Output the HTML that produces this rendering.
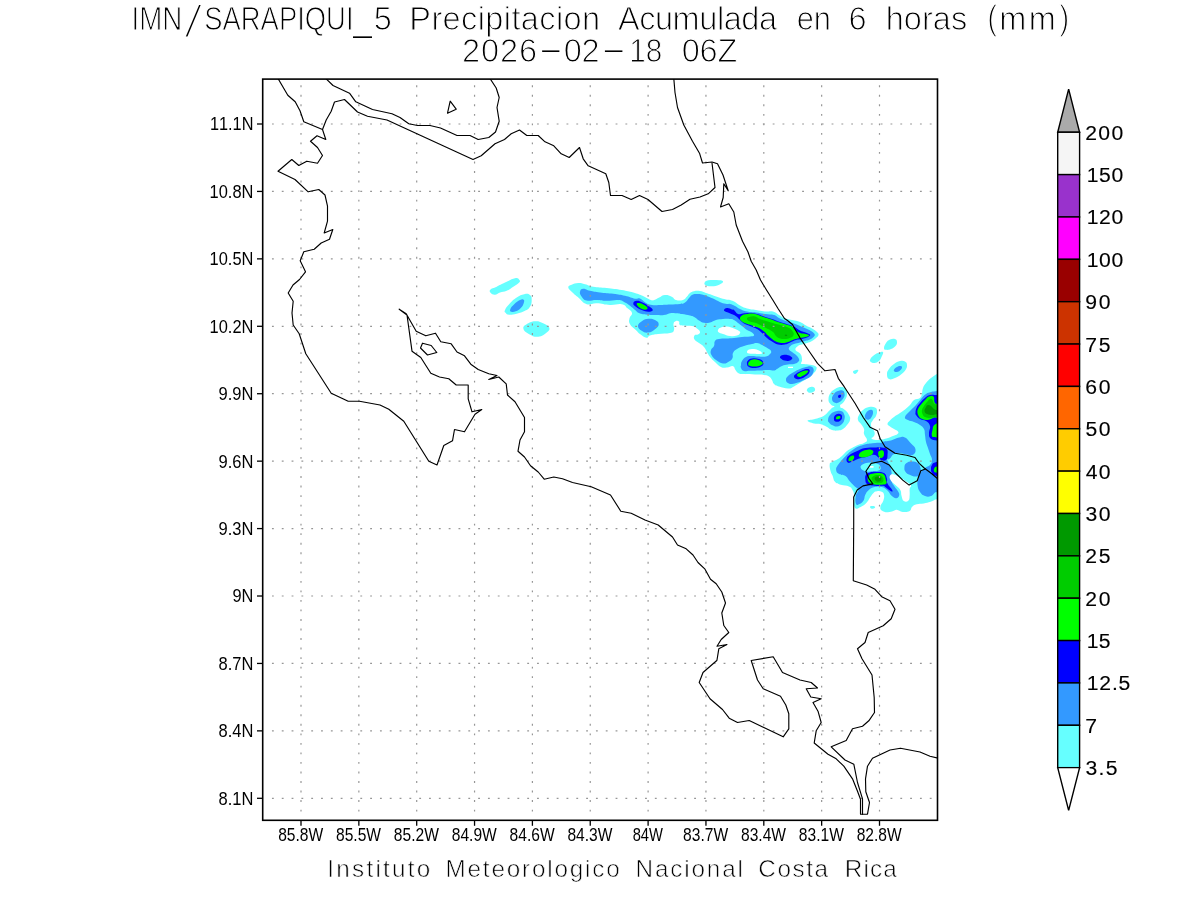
<!DOCTYPE html>
<html lang="es"><head><meta charset="utf-8"><title>IMN/SARAPIQUI_5 Precipitacion Acumulada en 6 horas (mm)</title>
<style>
html,body{margin:0;padding:0;background:#fff;}
body{width:1200px;height:900px;overflow:hidden;}
svg{display:block;}
text{font-family:"Liberation Sans",sans-serif;fill:#000;}
.ttl{stroke:#fff;stroke-width:1.05px;}
.ftr{stroke:#fff;stroke-width:0.65px;}
.ax{stroke:none;}
.cb{stroke:#000;stroke-width:0.12px;}
.coast{fill:none;stroke:#000;stroke-width:1.15;stroke-linejoin:round;stroke-linecap:round;}
.grid{fill:none;stroke:#969696;stroke-width:1.2;}
.tick{stroke:#000;stroke-width:1.3;}
</style></head><body>
<svg width="1200" height="900" viewBox="0 0 1200 900">
<rect x="0" y="0" width="1200" height="900" fill="#fff"/>
<clipPath id="mapclip"><rect x="262.7" y="79.1" width="674.8" height="741.2"/></clipPath>
<g id="precip" clip-path="url(#mapclip)">
<path fill="#66ffff" d="M490.3,289.7 C491.7,288.2 493.2,288.3 496.7,286.7 C500.1,285.0 500.7,284.4 505.0,282.5 C509.3,280.6 511.7,279.0 515.0,278.3 C518.3,277.7 518.2,278.7 519.2,279.7 C520.1,280.6 520.5,280.9 519.2,282.5 C517.8,284.1 516.2,284.7 513.3,286.7 C510.4,288.6 509.8,289.5 506.7,290.8 C503.6,292.2 502.7,291.6 500.0,292.5 C497.3,293.4 497.1,294.6 495.0,294.7 C492.9,294.8 491.9,294.2 490.8,293.0 C489.7,291.8 489.0,291.1 490.3,289.7Z"/>
<path fill="#66ffff" d="M505.0,310.0 C506.0,307.7 507.3,306.2 510.0,303.3 C512.7,300.4 513.4,299.6 516.7,297.5 C520.0,295.4 521.1,294.8 524.2,294.2 C527.3,293.6 528.2,293.6 530.0,295.0 C531.8,296.4 531.7,297.3 531.7,300.0 C531.7,302.7 531.6,304.1 530.0,306.7 C528.4,309.2 528.1,309.2 525.0,310.8 C521.9,312.5 520.4,312.8 516.7,313.7 C513.0,314.6 511.7,314.8 509.2,314.7 C506.6,314.5 506.8,314.1 505.8,313.0 C504.9,311.9 504.0,312.3 505.0,310.0Z"/>
<path fill="#66ffff" d="M523.3,328.3 C523.1,325.8 525.4,325.0 528.3,323.3 C531.2,321.7 532.5,321.2 535.8,321.2 C539.1,321.1 539.4,321.5 542.5,323.0 C545.6,324.5 548.2,325.3 549.2,327.5 C550.1,329.7 549.2,330.4 546.7,332.5 C544.1,334.6 542.4,336.3 538.3,336.7 C534.2,337.1 532.7,336.1 529.2,334.2 C525.7,332.2 523.5,330.9 523.3,328.3Z"/>
<path fill="#66ffff" d="M704.7,282.5 C705.2,281.3 705.5,280.9 708.3,280.3 C711.1,279.8 713.2,279.8 716.7,280.0 C720.1,280.2 722.4,280.2 723.0,281.3 C723.6,282.4 721.8,283.5 719.2,284.7 C716.5,285.8 714.8,286.2 711.7,286.3 C708.6,286.5 707.5,286.2 705.8,285.3 C704.2,284.4 704.1,283.7 704.7,282.5Z"/>
<path fill="#66ffff" d="M568.3,287.5 C568.1,285.7 569.3,285.7 571.7,284.7 C574.0,283.6 575.2,283.1 578.3,283.0 C581.4,282.9 581.5,283.3 585.0,284.2 C588.5,285.0 588.3,285.8 593.3,286.7 C598.4,287.6 600.1,287.2 606.7,288.0 C613.3,288.8 615.4,288.9 621.7,290.0 C627.9,291.1 628.5,291.1 633.3,292.5 C638.2,293.9 638.6,294.2 642.5,295.8 C646.4,297.5 647.3,298.7 650.0,299.7 C652.7,300.6 652.0,300.5 654.2,300.0 C656.3,299.5 656.6,298.7 659.2,297.5 C661.7,296.3 662.1,295.2 665.0,295.0 C667.9,294.8 669.1,295.5 671.7,296.7 C674.2,297.8 673.4,299.2 676.0,300.0 C678.6,300.8 680.4,300.8 683.0,300.0 C685.6,299.2 685.4,298.1 687.0,296.5 C688.6,294.9 688.4,294.2 690.0,293.0 C691.6,291.8 691.7,291.7 694.0,291.2 C696.3,290.7 697.2,290.6 700.0,291.0 C702.8,291.4 703.2,292.1 706.0,293.0 C708.8,293.9 709.0,293.9 712.0,295.0 C715.0,296.1 715.7,296.4 719.0,297.5 C722.3,298.6 723.4,298.9 726.0,299.5 C728.6,300.1 727.9,299.4 730.0,300.0 C732.1,300.6 732.7,300.7 735.0,302.0 C737.3,303.3 737.2,304.0 740.0,305.5 C742.8,307.0 743.3,307.4 747.0,308.5 C750.7,309.6 751.8,309.3 756.0,310.0 C760.2,310.7 761.0,311.1 765.0,311.5 C769.0,311.9 769.7,310.7 773.0,311.5 C776.3,312.3 776.4,313.5 779.0,315.0 C781.6,316.5 781.0,316.8 784.0,318.0 C787.0,319.2 788.3,319.1 792.0,320.0 C795.7,320.9 796.7,320.7 800.0,322.0 C803.3,323.3 803.2,324.0 806.0,325.5 C808.8,327.0 809.4,327.0 812.0,328.5 C814.6,330.0 815.5,330.5 817.0,332.0 C818.5,333.5 818.7,333.6 818.5,335.0 C818.3,336.4 817.5,336.6 816.0,338.0 C814.5,339.4 814.1,339.8 812.0,341.0 C809.9,342.2 809.3,342.2 807.0,343.0 C804.7,343.8 804.1,343.8 802.0,344.5 C799.9,345.2 799.5,344.7 798.0,346.0 C796.5,347.3 794.9,348.1 795.5,350.0 C796.1,351.9 799.0,351.7 800.5,354.0 C802.0,356.3 801.9,357.8 802.0,360.0 C802.1,362.2 800.5,362.6 801.0,363.5 C801.5,364.4 801.9,363.7 804.0,364.0 C806.1,364.3 807.4,364.3 810.0,364.8 C812.6,365.3 813.5,365.0 815.0,366.0 C816.5,367.0 817.0,367.1 816.5,369.0 C816.0,370.9 815.0,371.9 813.0,374.0 C811.0,376.1 810.3,376.4 808.0,378.0 C805.7,379.6 805.3,379.6 803.0,381.0 C800.7,382.4 800.3,382.6 798.0,384.0 C795.7,385.4 795.3,385.9 793.0,387.0 C790.7,388.1 791.3,388.6 788.0,388.5 C784.7,388.4 782.3,387.6 779.0,386.5 C775.7,385.4 775.6,385.5 774.0,384.0 C772.4,382.5 773.2,381.8 772.0,380.0 C770.8,378.2 770.9,377.7 769.0,376.5 C767.1,375.3 767.3,375.5 764.0,375.0 C760.7,374.5 759.4,374.7 755.0,374.5 C750.6,374.3 748.7,374.2 745.0,374.0 C741.3,373.8 741.2,374.4 739.0,373.5 C736.8,372.6 736.9,371.7 735.5,370.0 C734.1,368.3 735.0,366.8 733.0,366.2 C731.0,365.6 729.8,367.3 727.0,367.5 C724.2,367.7 723.8,368.3 721.0,367.0 C718.2,365.7 717.3,364.1 715.0,362.0 C712.7,359.9 712.6,359.9 711.0,358.0 C709.4,356.1 709.6,356.6 708.0,354.0 C706.4,351.4 706.1,349.6 704.0,347.0 C701.9,344.4 701.2,344.8 699.0,343.0 C696.8,341.2 695.5,341.2 694.5,339.5 C693.5,337.8 693.7,336.7 694.5,335.5 C695.3,334.3 696.7,335.3 698.0,334.5 C699.3,333.7 700.2,333.4 700.0,332.0 C699.8,330.6 698.9,329.9 697.0,328.5 C695.1,327.1 695.3,326.7 692.0,326.0 C688.7,325.3 685.9,325.9 683.0,325.5 C680.1,325.1 680.4,325.4 679.5,324.5 C678.6,323.6 679.9,322.3 679.0,321.5 C678.1,320.7 676.8,320.6 675.5,321.2 C674.2,321.8 673.9,321.9 673.5,324.0 C673.1,326.1 674.8,327.9 674.0,330.0 C673.2,332.1 673.7,332.1 670.0,333.0 C666.3,333.9 662.7,333.4 658.0,334.0 C653.3,334.6 652.7,334.6 650.0,335.5 C647.3,336.4 648.8,338.2 646.5,337.8 C644.2,337.4 642.5,335.8 640.0,334.0 C637.5,332.2 638.2,332.3 635.8,330.0 C633.5,327.7 631.5,326.9 630.0,324.2 C628.5,321.4 629.0,320.9 629.5,318.3 C630.0,315.7 632.5,315.3 632.0,313.0 C631.5,310.7 629.9,310.4 627.5,308.3 C625.1,306.3 625.8,304.9 621.7,304.2 C617.6,303.4 615.8,305.2 610.0,305.0 C604.2,304.8 602.1,303.5 596.7,303.3 C591.2,303.1 590.9,305.5 586.7,304.2 C582.4,302.8 581.6,300.2 578.3,297.5 C575.0,294.8 574.8,294.8 572.5,292.5 C570.2,290.2 568.5,289.3 568.3,287.5Z"/>
<path fill="#66ffff" d="M807.0,389.5 C807.4,388.6 807.6,388.1 809.0,387.5 C810.4,386.9 811.6,386.6 813.0,387.0 C814.4,387.4 814.8,387.9 815.0,389.0 C815.2,390.1 815.2,390.6 814.0,391.5 C812.8,392.4 811.5,392.8 810.0,392.8 C808.5,392.8 808.2,392.3 807.5,391.5 C806.8,390.7 806.6,390.4 807.0,389.5Z"/>
<path fill="#66ffff" d="M884.0,348.0 C884.0,346.4 884.6,345.0 886.0,343.0 C887.4,341.0 887.9,340.4 890.0,339.5 C892.1,338.6 893.4,338.4 895.0,339.0 C896.6,339.6 896.9,340.4 897.0,342.0 C897.1,343.6 896.9,344.4 895.5,346.0 C894.1,347.6 893.2,348.1 891.0,349.0 C888.8,349.9 887.6,350.0 886.0,349.8 C884.4,349.6 884.0,349.6 884.0,348.0Z"/>
<path fill="#66ffff" d="M870.0,360.0 C870.5,358.6 871.1,357.6 873.0,356.0 C874.9,354.4 875.7,353.9 878.0,353.0 C880.3,352.1 882.2,351.1 883.0,352.0 C883.8,352.9 882.4,354.9 881.5,357.0 C880.6,359.1 880.6,359.6 879.0,361.0 C877.4,362.4 876.4,362.8 874.5,363.0 C872.6,363.2 872.0,362.7 871.0,362.0 C870.0,361.3 869.5,361.4 870.0,360.0Z"/>
<path fill="#66ffff" d="M853.0,372.0 C852.9,371.2 853.3,371.0 854.5,370.5 C855.7,370.0 857.3,369.6 858.0,370.0 C858.7,370.4 858.2,371.1 857.5,372.0 C856.8,372.9 856.0,374.0 855.0,374.0 C854.0,374.0 853.1,372.8 853.0,372.0Z"/>
<path fill="#66ffff" d="M887.0,374.0 C887.0,371.7 887.4,371.3 889.0,369.0 C890.6,366.7 891.4,365.9 894.0,364.0 C896.6,362.1 897.4,361.6 900.0,361.0 C902.6,360.4 903.4,360.6 905.0,361.5 C906.6,362.4 906.9,363.0 907.0,365.0 C907.1,367.0 906.9,367.8 905.5,370.0 C904.1,372.2 903.5,372.6 901.0,374.5 C898.5,376.4 897.8,376.9 895.0,378.0 C892.2,379.1 890.9,379.9 889.0,379.0 C887.1,378.1 887.0,376.3 887.0,374.0Z"/>
<path fill="#66ffff" d="M828.5,399.0 C828.6,396.6 829.0,395.3 830.5,393.0 C832.0,390.7 832.5,390.4 835.0,389.0 C837.5,387.6 838.5,387.0 841.0,387.0 C843.5,387.0 844.1,387.4 845.5,389.0 C846.9,390.6 847.1,391.4 847.0,394.0 C846.9,396.6 846.6,397.4 845.0,400.0 C843.4,402.6 842.6,403.6 840.0,405.0 C837.4,406.4 836.3,406.4 834.0,406.0 C831.7,405.6 831.3,405.1 830.0,403.5 C828.7,401.9 828.4,401.4 828.5,399.0Z"/>
<path fill="#66ffff" d="M834.0,404.5 L840.0,404.5 L840.5,409.5 L835.0,410.5Z"/>
<path fill="#66ffff" d="M807.5,420.8 C807.5,419.8 811.1,420.0 814.0,419.2 C816.9,418.4 817.4,418.5 820.0,417.5 C822.6,416.5 822.7,416.8 825.0,415.0 C827.3,413.2 827.9,411.9 830.0,410.0 C832.1,408.1 831.7,407.6 834.0,407.0 C836.3,406.4 837.4,406.8 840.0,407.5 C842.6,408.2 842.9,408.2 845.0,410.0 C847.1,411.8 847.8,412.7 849.0,415.0 C850.2,417.3 850.5,417.7 850.0,420.0 C849.5,422.3 848.6,422.9 847.0,425.0 C845.4,427.1 845.1,427.7 843.0,429.0 C840.9,430.3 840.6,430.3 838.0,430.5 C835.4,430.7 834.6,430.8 832.0,430.0 C829.4,429.2 829.1,428.2 827.0,427.0 C824.9,425.8 824.6,425.7 823.0,425.0 C821.4,424.3 822.1,424.4 820.0,424.0 C817.9,423.6 816.9,424.2 814.0,423.5 C811.1,422.8 807.5,421.8 807.5,420.8Z"/>
<path fill="#66ffff" d="M940.0,373.0 C938.6,373.2 939.1,372.8 937.0,374.0 C934.9,375.2 933.6,375.9 931.0,378.0 C928.4,380.1 927.9,380.7 926.0,383.0 C924.1,385.3 923.9,385.7 923.0,388.0 C922.1,390.3 922.7,390.7 922.0,393.0 C921.3,395.3 921.9,396.4 920.0,398.0 C918.1,399.6 916.3,398.4 914.0,400.0 C911.7,401.6 912.1,402.8 910.0,405.0 C907.9,407.2 907.3,407.6 905.0,409.5 C902.7,411.4 902.6,411.2 900.0,413.0 C897.4,414.8 896.3,415.2 894.0,417.0 C891.7,418.8 891.5,418.9 890.0,420.5 C888.5,422.1 887.5,422.6 887.5,424.0 C887.5,425.4 888.5,425.3 890.0,426.5 C891.5,427.7 892.1,427.8 894.0,429.0 C895.9,430.2 897.2,430.3 898.0,431.5 C898.8,432.7 898.7,432.9 897.5,434.0 C896.3,435.1 895.2,435.1 893.0,436.0 C890.8,436.9 890.6,437.2 888.0,438.0 C885.4,438.8 884.8,439.0 882.0,439.5 C879.2,440.0 878.5,440.2 876.0,440.0 C873.5,439.8 872.0,439.4 871.5,438.5 C871.0,437.6 873.3,437.5 874.0,436.0 C874.7,434.5 875.0,433.9 874.5,432.0 C874.0,430.1 872.8,429.9 872.0,428.0 C871.2,426.1 870.8,425.9 871.0,424.0 C871.2,422.1 871.8,421.9 873.0,420.0 C874.2,418.1 875.1,418.1 876.0,416.0 C876.9,413.9 877.2,413.0 877.0,411.0 C876.8,409.0 876.9,408.4 875.0,407.5 C873.1,406.6 871.8,406.4 869.0,407.0 C866.2,407.6 865.3,408.1 863.0,410.0 C860.7,411.9 860.2,412.7 859.0,415.0 C857.8,417.3 857.5,417.9 858.0,420.0 C858.5,422.1 859.6,421.9 861.0,424.0 C862.4,426.1 863.3,426.7 864.0,429.0 C864.7,431.3 863.3,431.4 864.0,434.0 C864.7,436.6 867.0,437.9 867.0,440.0 C867.0,442.1 866.1,441.8 864.0,443.0 C861.9,444.2 860.8,443.8 858.0,445.0 C855.2,446.2 854.6,446.6 852.0,448.0 C849.4,449.4 849.1,449.4 847.0,451.0 C844.9,452.6 845.1,453.1 843.0,455.0 C840.9,456.9 840.6,457.4 838.0,459.0 C835.4,460.6 833.9,460.7 832.0,462.0 C830.1,463.3 830.0,462.3 829.7,464.5 C829.4,466.7 829.9,468.6 830.6,471.3 C831.3,474.0 831.6,473.6 832.7,476.0 C833.7,478.4 833.1,479.8 835.0,481.8 C836.9,483.9 837.6,483.7 840.8,484.8 C844.1,485.8 846.3,485.3 849.0,486.5 C851.7,487.7 851.3,487.8 852.5,490.0 C853.7,492.2 853.7,491.8 854.2,495.8 C854.8,499.9 853.3,504.9 854.8,507.5 C856.3,510.1 857.9,508.0 860.7,506.9 C863.4,505.8 864.3,505.0 866.5,502.8 C868.7,500.7 868.4,499.9 870.0,497.6 C871.6,495.3 871.9,494.4 873.5,492.9 C875.1,491.4 875.1,491.4 877.0,491.2 C878.9,490.9 880.0,490.9 881.7,491.8 C883.3,492.6 883.6,492.6 884.0,494.7 C884.4,496.7 884.2,497.8 883.4,500.5 C882.6,503.2 880.9,504.0 880.5,506.3 C880.1,508.6 880.0,509.1 881.7,510.4 C883.3,511.8 884.8,512.0 887.5,512.2 C890.2,512.3 891.2,511.5 893.3,511.0 C895.5,510.5 894.7,509.6 896.8,509.8 C899.0,510.1 899.7,511.7 902.7,511.9 C905.7,512.2 907.5,512.2 909.7,511.0 C911.8,509.8 910.4,508.5 912.0,506.9 C913.6,505.3 913.9,505.1 916.7,504.2 C919.4,503.4 920.4,504.0 923.7,503.4 C926.9,502.8 927.7,502.6 930.7,501.7 C933.7,500.7 933.5,500.1 936.5,499.3 C939.5,498.5 942.0,527.6 943.5,498.2 C945.0,468.7 943.8,402.2 943.0,373.0 C942.2,343.8 941.4,372.8 940.0,373.0Z"/>
<path fill="#66ffff" d="M870.0,506.9 C870.0,506.3 870.7,506.2 871.8,506.1 C872.8,506.0 874.0,506.1 874.7,506.6 C875.3,507.0 875.3,507.6 874.7,508.1 C874.0,508.6 872.8,508.9 871.8,508.7 C870.7,508.4 870.0,507.5 870.0,506.9Z"/>
<path fill="#3399ff" d="M510.3,309.2 C511.0,307.4 511.9,306.3 514.2,304.2 C516.4,302.0 517.8,301.1 520.0,300.0 C522.2,298.9 522.8,298.9 523.7,299.7 C524.5,300.4 524.3,301.4 523.7,303.3 C523.0,305.3 522.7,306.1 520.8,308.0 C519.0,309.9 518.1,310.5 515.8,311.3 C513.6,312.2 512.6,312.2 511.3,311.7 C510.0,311.2 509.7,310.9 510.3,309.2Z"/>
<path fill="#3399ff" d="M638.0,325.8 C638.2,323.5 640.1,322.5 642.5,320.8 C644.9,319.2 645.4,318.9 648.3,318.7 C651.2,318.5 652.6,318.7 655.0,320.0 C657.4,321.3 658.7,322.0 658.7,324.2 C658.7,326.3 657.4,327.2 655.0,329.2 C652.6,331.1 651.4,332.1 648.3,332.5 C645.2,332.9 644.1,332.4 641.7,330.8 C639.3,329.3 637.8,328.2 638.0,325.8Z"/>
<path fill="#3399ff" d="M580.0,291.7 C580.4,289.8 581.0,289.0 583.3,288.8 C585.7,288.6 586.1,290.0 590.0,290.8 C593.9,291.7 594.6,291.8 600.0,292.5 C605.4,293.2 607.5,293.1 613.3,293.8 C619.2,294.6 619.9,294.7 625.0,295.8 C630.1,297.0 631.5,298.0 635.0,298.7 C638.5,299.3 637.4,297.5 640.0,298.5 C642.6,299.5 643.2,301.5 646.0,303.0 C648.8,304.5 648.7,304.5 652.0,305.0 C655.3,305.5 655.8,305.1 660.0,305.0 C664.2,304.9 665.3,304.7 670.0,304.5 C674.7,304.3 676.5,304.5 680.0,304.0 C683.5,303.5 682.9,303.9 685.0,302.5 C687.1,301.1 687.4,299.8 689.0,298.0 C690.6,296.2 690.4,295.9 692.0,295.0 C693.6,294.1 693.7,294.1 696.0,294.0 C698.3,293.9 699.2,293.9 702.0,294.5 C704.8,295.1 705.0,295.3 708.0,296.5 C711.0,297.7 712.0,298.1 715.0,299.5 C718.0,300.9 718.2,301.4 721.0,302.5 C723.8,303.6 724.9,303.6 727.0,304.0 C729.1,304.4 728.1,303.5 730.0,304.0 C731.9,304.5 732.7,304.8 735.0,306.0 C737.3,307.2 737.2,307.7 740.0,309.0 C742.8,310.3 743.3,310.7 747.0,311.5 C750.7,312.3 751.8,311.9 756.0,312.5 C760.2,313.1 760.8,313.4 765.0,314.0 C769.2,314.6 770.7,314.1 774.0,315.0 C777.3,315.9 776.2,316.6 779.0,318.0 C781.8,319.4 782.5,319.7 786.0,321.0 C789.5,322.3 790.7,322.3 794.0,323.5 C797.3,324.7 797.2,324.8 800.0,326.0 C802.8,327.2 803.4,327.3 806.0,328.5 C808.6,329.7 809.0,329.7 811.0,331.0 C813.0,332.3 813.8,332.7 814.5,334.0 C815.2,335.3 815.0,335.2 814.0,336.5 C813.0,337.8 812.1,338.4 810.0,339.5 C807.9,340.6 807.3,340.3 805.0,341.0 C802.7,341.7 802.6,341.8 800.0,342.5 C797.4,343.2 796.3,343.1 794.0,344.0 C791.7,344.9 791.2,345.2 790.0,346.5 C788.8,347.8 788.5,348.2 789.0,349.5 C789.5,350.8 790.4,350.7 792.0,352.0 C793.6,353.3 794.4,353.4 796.0,355.0 C797.6,356.6 798.5,357.4 799.0,359.0 C799.5,360.6 799.2,360.8 798.0,362.0 C796.8,363.2 796.3,363.4 794.0,364.0 C791.7,364.6 790.8,364.0 788.0,364.5 C785.2,365.0 784.6,364.9 782.0,366.0 C779.4,367.1 778.9,367.9 777.0,369.0 C775.1,370.1 776.1,370.3 774.0,370.5 C771.9,370.7 771.3,370.0 768.0,370.0 C764.7,370.0 764.2,370.3 760.0,370.5 C755.8,370.7 753.7,370.7 750.0,370.8 C746.3,370.9 746.1,371.7 744.0,371.0 C741.9,370.3 741.7,369.4 741.0,368.0 C740.3,366.6 740.8,366.6 741.0,365.0 C741.2,363.4 740.8,362.9 742.0,361.0 C743.2,359.1 743.7,358.2 746.0,357.0 C748.3,355.8 749.2,356.1 752.0,356.0 C754.8,355.9 754.7,356.4 758.0,356.5 C761.3,356.6 763.2,357.1 766.0,356.5 C768.8,355.9 768.8,355.3 770.0,354.0 C771.2,352.7 771.5,352.3 771.0,351.0 C770.5,349.7 770.1,349.9 768.0,348.5 C765.9,347.1 764.6,346.3 762.0,345.0 C759.4,343.7 759.3,343.2 757.0,343.0 C754.7,342.8 755.0,343.3 752.0,344.0 C749.0,344.7 747.5,344.8 744.0,346.0 C740.5,347.2 739.6,347.4 737.0,349.0 C734.4,350.6 734.0,350.9 733.0,353.0 C732.0,355.1 733.4,356.0 732.5,358.0 C731.6,360.0 731.2,360.2 729.0,361.5 C726.8,362.8 726.0,363.9 723.0,363.5 C720.0,363.1 718.7,362.0 716.0,360.0 C713.3,358.0 712.7,357.3 711.5,355.0 C710.3,352.7 710.4,352.1 711.0,350.0 C711.6,347.9 713.1,348.1 714.0,346.0 C714.9,343.9 713.8,342.6 715.0,341.0 C716.2,339.4 716.4,339.6 719.0,339.0 C721.6,338.4 722.5,338.7 726.0,338.5 C729.5,338.3 730.3,338.4 734.0,338.0 C737.7,337.6 738.3,337.4 742.0,337.0 C745.7,336.6 747.2,336.9 750.0,336.5 C752.8,336.1 753.5,336.4 754.0,335.5 C754.5,334.6 753.6,333.8 752.0,332.5 C750.4,331.2 749.3,331.5 747.0,330.0 C744.7,328.5 744.1,327.6 742.0,326.0 C739.9,324.4 739.9,324.4 738.0,323.0 C736.1,321.6 735.9,320.9 734.0,320.0 C732.1,319.1 732.6,319.2 730.0,319.0 C727.4,318.8 726.3,318.8 723.0,319.0 C719.7,319.2 719.0,319.2 716.0,320.0 C713.0,320.8 712.8,321.8 710.0,322.5 C707.2,323.2 706.6,323.3 704.0,322.8 C701.4,322.3 701.1,321.7 699.0,320.5 C696.9,319.3 697.1,318.7 695.0,317.5 C692.9,316.3 693.0,316.3 690.0,315.5 C687.0,314.7 685.3,314.5 682.0,314.0 C678.7,313.5 678.8,313.4 676.0,313.2 C673.2,313.0 672.8,312.8 670.0,313.2 C667.2,313.6 667.3,314.6 664.0,315.0 C660.7,315.4 659.7,315.0 656.0,315.0 C652.3,315.0 651.7,315.2 648.0,314.8 C644.3,314.4 643.0,314.6 640.0,313.5 C637.0,312.4 637.3,311.8 635.0,310.0 C632.7,308.2 632.3,307.6 630.0,305.8 C627.7,304.1 627.7,303.9 625.0,302.5 C622.3,301.1 622.6,300.4 618.3,300.0 C614.1,299.6 611.7,300.8 606.7,300.8 C601.6,300.8 601.3,300.1 596.7,300.0 C592.0,299.9 590.2,301.3 586.7,300.5 C583.2,299.7 583.2,298.7 581.7,296.7 C580.1,294.6 579.6,293.5 580.0,291.7Z"/>
<path fill="#3399ff" d="M786.0,380.0 C786.0,378.4 786.1,377.9 788.0,376.0 C789.9,374.1 791.2,373.6 794.0,372.0 C796.8,370.4 797.2,370.2 800.0,369.0 C802.8,367.8 803.4,367.6 806.0,367.0 C808.6,366.4 809.2,366.0 811.0,366.5 C812.8,367.0 813.0,367.5 813.5,369.0 C814.0,370.5 813.8,371.1 813.0,373.0 C812.2,374.9 812.1,375.4 810.0,377.0 C807.9,378.6 806.8,378.7 804.0,380.0 C801.2,381.3 800.8,381.6 798.0,382.5 C795.2,383.4 794.3,383.9 792.0,384.0 C789.7,384.1 789.4,383.9 788.0,383.0 C786.6,382.1 786.0,381.6 786.0,380.0Z"/>
<path fill="#3399ff" d="M894.0,370.0 C894.4,369.1 894.6,368.4 896.0,367.5 C897.4,366.6 898.6,366.0 900.0,366.0 C901.4,366.0 902.0,366.4 902.0,367.5 C902.0,368.6 901.2,369.4 900.0,370.5 C898.8,371.6 898.3,371.8 897.0,372.0 C895.7,372.2 895.2,372.0 894.5,371.5 C893.8,371.0 893.6,370.9 894.0,370.0Z"/>
<path fill="#3399ff" d="M832.0,399.0 C831.8,396.9 832.6,395.9 834.0,394.0 C835.4,392.1 836.0,391.8 838.0,391.0 C840.0,390.2 841.0,389.9 842.5,390.5 C844.0,391.1 844.3,391.8 844.5,393.5 C844.7,395.2 844.7,396.0 843.5,398.0 C842.3,400.0 841.5,400.9 839.5,402.0 C837.5,403.1 836.8,403.5 835.0,402.8 C833.2,402.1 832.2,401.1 832.0,399.0Z"/>
<path fill="#3399ff" d="M828.0,420.0 C828.2,418.2 828.4,417.0 830.0,415.0 C831.6,413.0 832.4,412.4 835.0,411.5 C837.6,410.6 838.9,410.4 841.0,411.0 C843.1,411.6 843.2,412.1 844.0,414.0 C844.8,415.9 845.0,416.7 844.5,419.0 C844.0,421.3 843.8,422.2 842.0,424.0 C840.2,425.8 839.3,426.3 837.0,426.5 C834.7,426.7 833.9,425.9 832.0,425.0 C830.1,424.1 829.9,423.7 829.0,422.5 C828.1,421.3 827.8,421.8 828.0,420.0Z"/>
<path fill="#3399ff" d="M865.0,417.0 C864.9,415.8 864.7,415.5 865.5,414.0 C866.3,412.5 867.0,411.4 868.5,410.5 C870.0,409.6 871.0,409.4 872.0,410.0 C873.0,410.6 873.1,411.4 873.0,413.0 C872.9,414.6 872.4,415.5 871.5,417.0 C870.6,418.5 870.3,419.0 869.0,419.5 C867.7,420.0 866.9,419.6 866.0,419.0 C865.1,418.4 865.1,418.2 865.0,417.0Z"/>
<path fill="#3399ff" d="M836.2,470.2 C835.9,467.9 836.3,467.6 838.5,464.3 C840.7,461.1 842.0,459.7 845.5,456.2 C849.0,452.6 849.6,451.8 853.7,449.2 C857.8,446.6 858.6,446.4 863.0,445.1 C867.4,443.7 868.0,443.9 872.3,443.3 C876.7,442.8 877.9,442.8 881.7,442.8 C885.5,442.8 887.3,441.6 888.7,443.3 C890.0,445.1 887.9,446.8 887.5,450.3 C887.1,453.9 886.4,455.0 886.9,458.5 C887.5,462.0 888.7,462.2 889.8,465.5 C890.9,468.8 891.2,469.0 891.6,472.5 C892.0,476.0 890.9,477.4 891.6,480.7 C892.3,483.9 893.0,484.1 894.5,486.5 C896.0,488.9 896.9,489.1 898.0,491.2 C899.1,493.2 899.6,493.6 899.2,495.2 C898.8,496.9 898.0,498.0 896.2,498.2 C894.5,498.3 893.6,497.6 891.6,495.8 C889.5,494.1 889.8,492.6 887.5,490.6 C885.2,488.5 884.7,487.9 881.7,487.1 C878.7,486.3 877.7,486.4 874.7,487.1 C871.7,487.8 871.0,488.2 868.8,490.0 C866.7,491.8 866.6,492.2 865.3,494.7 C864.1,497.1 864.9,498.3 863.6,500.5 C862.2,502.7 861.3,503.2 859.5,504.0 C857.7,504.8 856.9,505.9 856.0,504.0 C855.1,502.1 855.2,499.1 855.8,495.8 C856.3,492.6 858.6,492.2 858.3,490.0 C858.1,487.8 856.7,488.4 854.8,486.5 C852.9,484.6 852.3,484.3 850.2,481.8 C848.0,479.4 848.0,477.8 845.5,476.0 C843.0,474.2 841.8,475.6 839.7,474.2 C837.5,472.9 836.4,472.5 836.2,470.2Z"/>
<path fill="#3399ff" d="M881.7,442.8 C882.8,440.4 886.9,441.6 891.0,440.4 C895.1,439.2 895.9,438.2 899.2,437.5 C902.4,436.8 902.3,436.1 905.0,437.5 C907.7,438.9 908.4,440.6 910.8,443.3 C913.3,446.1 915.1,446.4 915.5,449.2 C915.9,451.9 915.0,453.9 912.6,455.0 C910.1,456.1 908.1,454.6 905.0,454.1 C901.9,453.6 901.9,452.8 899.2,452.9 C896.4,453.0 895.5,453.1 893.3,454.4 C891.2,455.7 891.3,457.5 889.8,458.5 C888.3,459.5 887.7,460.4 886.9,458.5 C886.1,456.6 887.6,454.0 886.3,450.3 C885.1,446.7 880.6,445.1 881.7,442.8Z"/>
<path fill="#3399ff" d="M904.4,467.8 C904.6,465.8 904.4,464.7 906.2,463.2 C907.9,461.7 909.3,461.4 912.0,461.4 C914.7,461.4 915.8,461.4 917.8,463.2 C919.9,464.9 920.2,466.3 920.8,469.0 C921.3,471.7 921.4,473.1 920.2,474.8 C918.9,476.6 918.0,476.6 915.5,476.6 C913.0,476.6 912.0,475.9 909.7,474.8 C907.4,473.7 906.8,473.6 905.6,471.9 C904.4,470.3 904.3,469.9 904.4,467.8Z"/>
<path fill="#3399ff" d="M943.0,390.5 C941.6,367.4 939.8,390.6 937.0,391.0 C934.2,391.4 933.6,391.3 931.0,392.0 C928.4,392.7 928.3,392.4 926.0,394.0 C923.7,395.6 923.3,396.4 921.0,399.0 C918.7,401.6 918.6,402.2 916.0,405.0 C913.4,407.8 912.6,408.2 910.0,411.0 C907.4,413.8 905.5,414.9 905.0,417.0 C904.5,419.1 905.9,418.8 908.0,420.0 C910.1,421.2 911.2,420.8 914.0,422.0 C916.8,423.2 917.7,423.4 920.0,425.0 C922.3,426.6 922.8,426.7 924.0,429.0 C925.2,431.3 924.5,432.0 925.0,435.0 C925.5,438.0 925.3,439.0 926.0,442.0 C926.7,445.0 927.1,445.2 928.0,448.0 C928.9,450.8 929.1,451.2 930.0,454.0 C930.9,456.8 932.0,457.4 932.0,460.0 C932.0,462.6 931.6,463.1 930.0,465.0 C928.4,466.9 927.1,466.4 925.0,468.0 C922.9,469.6 922.5,469.7 921.0,472.0 C919.5,474.3 919.3,475.0 918.5,478.0 C917.7,481.0 917.1,481.7 917.5,485.0 C917.9,488.3 918.2,489.4 920.0,492.0 C921.8,494.6 922.4,495.1 925.0,496.0 C927.6,496.9 928.4,496.9 931.0,496.0 C933.6,495.1 933.2,493.4 936.0,492.0 C938.8,490.6 941.4,513.7 943.0,490.0 C944.6,466.3 944.4,413.6 943.0,390.5Z"/>
<path fill="#66ffff" d="M860.7,467.8 C860.1,466.2 860.8,465.6 863.0,464.3 C865.2,463.1 866.7,462.7 870.0,462.6 C873.3,462.4 874.5,462.8 877.0,463.8 C879.5,464.7 880.0,465.2 880.5,466.7 C881.0,468.2 881.2,469.1 879.3,470.2 C877.4,471.3 875.6,471.1 872.3,471.3 C869.1,471.6 868.1,472.1 865.3,471.3 C862.6,470.5 861.2,469.5 860.7,467.8Z"/>
<path fill="#ffffff" d="M718.0,330.0 C718.5,328.8 718.9,328.3 721.0,327.5 C723.1,326.7 724.0,326.3 727.0,326.5 C730.0,326.7 731.2,327.4 734.0,328.5 C736.8,329.6 737.6,329.9 739.0,331.0 C740.4,332.1 740.5,331.9 740.0,333.0 C739.5,334.1 739.3,334.8 737.0,335.5 C734.7,336.2 733.3,336.4 730.0,336.0 C726.7,335.6 725.6,334.8 723.0,334.0 C720.4,333.2 720.2,333.4 719.0,332.5 C717.8,331.6 717.5,331.2 718.0,330.0Z"/>
<path fill="#ffffff" d="M747.0,352.0 C747.0,351.1 747.4,350.2 749.0,349.5 C750.6,348.8 751.7,348.8 754.0,349.0 C756.3,349.2 757.1,349.6 759.0,350.5 C760.9,351.4 761.8,352.2 762.0,353.0 C762.2,353.8 761.9,353.8 760.0,354.0 C758.1,354.2 756.6,353.9 754.0,353.8 C751.4,353.7 750.6,353.9 749.0,353.5 C747.4,353.1 747.0,352.9 747.0,352.0Z"/>
<path fill="#ffffff" d="M788.0,366.8 L793.0,366.8 L793.0,368.0 L788.0,368.0Z"/>
<path fill="#ffffff" d="M889.8,476.0 C890.4,474.5 891.2,474.0 893.3,474.2 C895.5,474.5 896.4,475.7 899.2,477.2 C901.9,478.7 902.3,478.8 905.0,480.7 C907.7,482.6 909.7,483.4 910.8,485.3 C911.9,487.2 909.9,486.7 909.7,488.8 C909.4,491.0 909.9,491.9 909.7,494.7 C909.4,497.4 909.9,499.0 908.5,500.5 C907.1,502.0 905.5,502.2 903.8,501.1 C902.2,500.0 902.3,498.4 901.5,495.8 C900.7,493.2 901.7,492.4 900.3,490.0 C899.0,487.6 897.8,487.5 895.7,485.3 C893.5,483.2 892.4,482.8 891.0,480.7 C889.6,478.5 889.3,477.5 889.8,476.0Z"/>
<path fill="#ffffff" d="M868.8,466.1 L873.5,466.1 L873.5,467.8 L868.8,467.8Z"/>
<path fill="#0000ff" d="M633.3,303.3 C633.5,302.0 634.5,301.0 636.7,300.8 C638.8,300.6 639.8,301.3 642.5,302.5 C645.2,303.7 645.9,304.1 648.3,305.8 C650.7,307.6 652.8,308.6 652.8,310.0 C652.8,311.4 650.9,311.7 648.3,311.7 C645.7,311.7 644.6,311.2 641.7,310.0 C638.8,308.8 637.8,308.2 635.8,306.7 C633.9,305.1 633.1,304.7 633.3,303.3Z"/>
<path fill="#0000ff" d="M724.0,310.5 C723.8,309.4 725.1,308.2 727.0,308.0 C728.9,307.8 730.4,309.0 732.0,309.5 C733.6,310.0 732.6,308.9 734.0,310.0 C735.4,311.1 735.9,313.2 738.0,314.0 C740.1,314.8 740.2,313.7 743.0,313.5 C745.8,313.3 746.7,312.9 750.0,313.0 C753.3,313.1 753.7,313.2 757.0,314.0 C760.3,314.8 760.5,315.3 764.0,316.5 C767.5,317.7 768.3,317.7 772.0,319.0 C775.7,320.3 776.3,320.7 780.0,322.0 C783.7,323.3 784.7,323.4 788.0,324.5 C791.3,325.6 791.4,325.2 794.0,326.5 C796.6,327.8 796.7,328.7 799.0,330.0 C801.3,331.3 801.7,331.1 804.0,332.0 C806.3,332.9 807.6,333.2 809.0,334.0 C810.4,334.8 810.5,334.7 810.0,335.5 C809.5,336.3 808.9,336.7 807.0,337.5 C805.1,338.3 804.6,338.4 802.0,339.0 C799.4,339.6 798.8,339.2 796.0,340.0 C793.2,340.8 792.6,341.4 790.0,342.5 C787.4,343.6 787.8,344.0 785.0,344.5 C782.2,345.0 781.0,345.2 778.0,344.5 C775.0,343.8 774.6,343.0 772.0,341.5 C769.4,340.0 769.3,340.0 767.0,338.0 C764.7,336.0 764.3,335.1 762.0,333.0 C759.7,330.9 759.8,330.6 757.0,329.0 C754.2,327.4 753.0,327.3 750.0,326.0 C747.0,324.7 746.3,324.9 744.0,323.5 C741.7,322.1 741.6,321.5 740.0,320.0 C738.4,318.5 738.4,318.2 737.0,317.0 C735.6,315.8 734.7,315.5 734.0,315.0 C733.3,314.5 735.4,315.6 734.0,315.0 C732.6,314.4 730.3,313.6 728.0,312.5 C725.7,311.4 724.2,311.6 724.0,310.5Z"/>
<path fill="#0000ff" d="M747.0,364.0 C746.8,362.5 746.8,361.8 748.0,360.5 C749.2,359.2 749.4,358.9 752.0,358.5 C754.6,358.1 756.4,358.3 759.0,359.0 C761.6,359.7 762.0,360.3 763.0,361.5 C764.0,362.7 764.2,362.7 763.5,364.0 C762.8,365.3 762.2,366.1 760.0,367.0 C757.8,367.9 756.6,368.0 754.0,368.0 C751.4,368.0 750.6,367.9 749.0,367.0 C747.4,366.1 747.2,365.5 747.0,364.0Z"/>
<path fill="#0000ff" d="M780.0,357.0 C780.4,356.1 781.1,355.4 783.0,355.0 C784.9,354.6 786.0,354.7 788.0,355.2 C790.0,355.7 790.6,356.1 791.5,357.0 C792.4,357.9 792.6,358.1 792.0,359.0 C791.4,359.9 790.8,360.4 789.0,360.8 C787.2,361.2 786.2,360.9 784.5,360.5 C782.8,360.1 782.5,359.8 781.5,359.0 C780.5,358.2 779.6,357.9 780.0,357.0Z"/>
<path fill="#0000ff" d="M794.0,376.5 C794.0,375.2 794.6,374.9 796.5,373.5 C798.4,372.1 799.5,371.6 802.0,370.5 C804.5,369.4 805.2,369.1 807.0,369.0 C808.8,368.9 809.0,369.1 809.5,370.0 C810.0,370.9 809.8,371.6 809.0,373.0 C808.2,374.4 807.8,374.7 806.0,376.0 C804.2,377.3 803.7,377.8 801.5,378.5 C799.3,379.2 798.2,379.5 796.5,379.0 C794.8,378.5 794.0,377.8 794.0,376.5Z"/>
<path fill="#0000ff" d="M838.0,396.5 C838.0,395.8 838.3,395.3 839.0,395.0 C839.7,394.7 840.6,394.7 841.0,395.2 C841.4,395.7 841.2,396.3 840.8,397.0 C840.4,397.7 839.9,398.1 839.2,398.0 C838.5,397.9 838.0,397.2 838.0,396.5Z"/>
<path fill="#0000ff" d="M834.0,419.5 C833.9,418.3 833.7,417.3 834.5,416.0 C835.3,414.7 836.0,414.4 837.5,414.0 C839.0,413.6 840.0,413.7 841.0,414.5 C842.0,415.3 842.1,416.1 842.0,417.5 C841.9,418.9 841.5,419.5 840.5,420.5 C839.5,421.5 838.8,421.6 837.5,421.8 C836.2,422.0 835.8,421.7 835.0,421.2 C834.2,420.7 834.1,420.7 834.0,419.5Z"/>
<path fill="#0000ff" d="M846.7,458.5 C847.2,456.6 847.7,456.2 850.2,454.4 C852.6,452.6 853.6,452.4 857.2,450.9 C860.7,449.4 861.2,448.8 865.3,448.0 C869.4,447.2 870.9,447.6 874.7,447.4 C878.5,447.3 878.8,447.0 881.7,447.4 C884.5,447.8 885.6,447.4 886.9,449.2 C888.3,450.9 887.6,452.6 887.5,455.0 C887.4,457.4 887.7,458.4 886.3,459.7 C885.0,460.9 883.6,460.8 881.7,460.2 C879.8,459.7 879.8,458.6 878.2,457.3 C876.5,456.1 876.6,455.4 874.7,455.0 C872.8,454.6 872.2,455.0 870.0,455.6 C867.8,456.1 867.5,456.8 865.3,457.3 C863.2,457.9 862.8,457.4 860.7,457.9 C858.5,458.5 858.2,458.7 856.0,459.7 C853.8,460.6 853.2,461.3 851.3,462.0 C849.4,462.7 848.9,463.4 847.8,462.6 C846.7,461.8 846.1,460.4 846.7,458.5Z"/>
<path fill="#0000ff" d="M865.3,479.5 C865.2,477.5 864.8,476.5 865.9,474.8 C867.0,473.2 867.4,473.2 870.0,472.5 C872.6,471.8 873.7,471.8 877.0,471.9 C880.3,472.1 881.7,471.6 884.0,473.1 C886.3,474.6 886.1,475.9 886.9,478.3 C887.7,480.8 886.3,480.9 887.5,483.6 C888.7,486.3 891.3,488.2 892.2,490.0 C893.0,491.8 892.6,491.8 891.0,491.2 C889.4,490.5 886.8,488.3 885.2,487.1 C883.5,485.9 885.9,486.2 884.0,485.9 C882.1,485.6 880.3,486.1 877.0,485.9 C873.7,485.8 872.5,485.9 870.0,485.3 C867.5,484.8 867.6,484.9 866.5,483.6 C865.4,482.2 865.5,481.5 865.3,479.5Z"/>
<path fill="#0000ff" d="M943.0,394.5 C941.6,383.9 940.0,394.9 937.0,395.0 C934.0,395.1 932.8,394.3 930.0,395.0 C927.2,395.7 927.3,396.1 925.0,398.0 C922.7,399.9 922.0,400.7 920.0,403.0 C918.0,405.3 917.5,405.7 916.5,408.0 C915.5,410.3 915.6,411.4 915.5,413.0 C915.4,414.6 915.0,413.6 916.0,415.0 C917.0,416.4 917.7,417.6 920.0,419.0 C922.3,420.4 923.7,419.4 926.0,421.0 C928.3,422.6 929.3,423.2 930.0,426.0 C930.7,428.8 928.9,430.1 929.0,433.0 C929.1,435.9 928.6,436.8 930.5,438.5 C932.4,440.2 934.1,440.0 937.0,440.5 C939.9,441.0 941.6,451.2 943.0,440.5 C944.4,429.8 944.4,405.1 943.0,394.5Z"/>
<path fill="#0000ff" d="M931.0,469.0 C931.0,467.1 931.1,466.5 932.0,465.0 C932.9,463.5 932.4,463.2 935.0,462.5 C937.6,461.8 941.1,458.9 943.0,462.0 C944.9,465.1 944.9,472.9 943.0,476.0 C941.1,479.1 937.6,476.2 935.0,475.5 C932.4,474.8 932.9,474.5 932.0,473.0 C931.1,471.5 931.0,470.9 931.0,469.0Z"/>
<path fill="#00ff00" d="M636.7,304.2 C636.5,303.0 637.4,302.8 639.2,303.0 C640.9,303.2 642.2,303.8 644.2,305.0 C646.1,306.2 647.3,306.9 647.5,308.0 C647.7,309.1 646.8,309.7 645.0,309.7 C643.2,309.7 641.9,309.3 640.0,308.0 C638.1,306.7 636.9,305.3 636.7,304.2Z"/>
<path fill="#00ff00" d="M740.0,318.5 C740.0,317.1 740.4,316.6 742.0,315.5 C743.6,314.4 744.0,314.4 747.0,314.0 C750.0,313.6 751.5,313.4 755.0,314.0 C758.5,314.6 758.5,315.3 762.0,316.5 C765.5,317.7 766.3,317.7 770.0,319.0 C773.7,320.3 774.3,320.7 778.0,322.0 C781.7,323.3 782.7,323.4 786.0,324.5 C789.3,325.6 789.9,325.2 792.0,326.5 C794.1,327.8 793.1,328.5 795.0,330.0 C796.9,331.5 797.4,332.1 800.0,333.0 C802.6,333.9 803.9,333.4 806.0,334.0 C808.1,334.6 809.0,334.8 809.0,335.5 C809.0,336.2 808.1,336.4 806.0,337.0 C803.9,337.6 802.8,337.4 800.0,338.0 C797.2,338.6 796.8,338.6 794.0,339.5 C791.2,340.4 790.6,341.2 788.0,342.0 C785.4,342.8 785.6,343.0 783.0,343.0 C780.4,343.0 779.6,342.9 777.0,342.0 C774.4,341.1 774.1,340.5 772.0,339.0 C769.9,337.5 769.9,337.2 768.0,335.5 C766.1,333.8 766.1,333.2 764.0,331.5 C761.9,329.8 761.8,329.4 759.0,328.0 C756.2,326.6 755.0,326.6 752.0,325.5 C749.0,324.4 748.3,324.4 746.0,323.5 C743.7,322.6 743.4,322.7 742.0,321.5 C740.6,320.3 740.0,319.9 740.0,318.5Z"/>
<path fill="#00ff00" d="M748.2,364.0 C748.2,362.9 748.4,362.2 749.5,361.2 C750.6,360.1 750.9,359.8 753.0,359.5 C755.1,359.2 756.4,359.4 758.5,360.0 C760.6,360.6 761.1,361.1 762.0,362.0 C762.9,362.9 763.2,363.1 762.5,364.0 C761.8,364.9 761.1,365.4 759.0,366.0 C756.9,366.6 755.7,366.5 753.5,366.5 C751.3,366.5 750.7,366.4 749.5,365.8 C748.3,365.2 748.2,365.1 748.2,364.0Z"/>
<path fill="#00ff00" d="M797.0,375.0 C797.1,373.9 798.2,373.5 800.0,372.5 C801.8,371.5 802.6,371.2 804.5,370.8 C806.4,370.4 807.4,370.3 808.0,370.8 C808.6,371.3 808.0,371.9 807.0,373.0 C806.0,374.1 805.2,374.6 803.5,375.5 C801.8,376.4 801.0,377.1 799.5,377.0 C798.0,376.9 796.9,376.1 797.0,375.0Z"/>
<path fill="#00ff00" d="M836.0,418.0 C836.1,417.4 836.2,417.0 837.0,416.5 C837.8,416.0 838.7,415.8 839.5,416.0 C840.3,416.2 840.6,416.8 840.5,417.5 C840.4,418.2 839.9,418.6 839.0,419.0 C838.1,419.4 837.2,419.4 836.5,419.2 C835.8,419.0 835.9,418.6 836.0,418.0Z"/>
<path fill="#00ff00" d="M848.4,460.2 C848.3,459.4 848.6,458.4 849.6,457.3 C850.5,456.2 851.4,455.7 852.5,455.6 C853.6,455.4 854.1,455.8 854.2,456.8 C854.4,457.7 854.0,458.7 853.1,459.7 C852.1,460.7 851.3,460.9 850.2,461.1 C849.1,461.2 848.6,461.1 848.4,460.2Z"/>
<path fill="#00ff00" d="M858.9,455.0 C859.3,453.7 859.8,452.7 861.8,451.5 C863.9,450.3 865.2,450.0 867.7,449.8 C870.1,449.5 871.1,449.5 872.3,450.3 C873.6,451.1 873.7,451.9 872.9,453.2 C872.1,454.6 871.0,455.2 868.8,456.2 C866.7,457.1 865.6,457.1 863.6,457.3 C861.5,457.6 861.2,457.6 860.1,457.1 C859.0,456.6 858.5,456.3 858.9,455.0Z"/>
<path fill="#00ff00" d="M878.2,453.8 C878.0,452.3 878.2,451.7 879.3,450.9 C880.4,450.2 881.7,449.9 882.8,450.6 C883.9,451.2 884.0,452.3 884.0,453.8 C884.0,455.4 883.8,456.5 882.8,457.3 C881.9,458.2 881.0,458.4 879.9,457.6 C878.8,456.8 878.3,455.4 878.2,453.8Z"/>
<path fill="#00ff00" d="M867.7,479.5 C867.4,477.7 867.7,476.8 868.8,475.4 C869.9,474.1 869.9,474.2 872.3,473.7 C874.8,473.1 876.6,472.8 879.3,473.1 C882.1,473.4 882.5,473.3 884.0,474.8 C885.5,476.3 885.2,477.5 885.8,479.5 C886.3,481.5 887.3,482.4 886.3,483.6 C885.4,484.8 884.4,484.6 881.7,484.8 C878.9,484.9 877.4,484.8 874.7,484.4 C871.9,484.0 871.6,484.1 870.0,483.0 C868.4,481.9 867.9,481.3 867.7,479.5Z"/>
<path fill="#00ff00" d="M933.5,396.5 C932.2,395.2 931.0,395.7 929.0,396.5 C927.0,397.3 926.9,398.1 925.0,400.0 C923.1,401.9 922.6,402.4 921.0,404.5 C919.4,406.6 918.8,407.0 918.0,409.0 C917.2,411.0 917.3,411.2 917.5,413.0 C917.7,414.8 918.2,415.2 919.0,416.5 C919.8,417.8 919.4,417.7 921.0,418.5 C922.6,419.3 923.7,419.9 926.0,420.0 C928.3,420.1 928.9,419.6 931.0,419.0 C933.1,418.4 932.2,417.7 935.0,417.5 C937.8,417.3 941.1,421.0 943.0,418.0 C944.9,415.0 944.4,407.8 943.0,404.5 C941.6,401.2 939.0,404.6 937.0,404.0 C935.0,403.4 935.3,403.8 934.5,402.0 C933.7,400.2 934.8,397.8 933.5,396.5Z"/>
<path fill="#00ff00" d="M932.0,436.0 C931.4,434.4 931.8,432.7 932.5,430.0 C933.2,427.3 932.5,426.2 935.0,424.5 C937.5,422.8 941.1,419.5 943.0,422.5 C944.9,425.5 944.9,434.1 943.0,437.5 C941.1,440.9 937.6,437.4 935.0,437.0 C932.4,436.6 932.6,437.6 932.0,436.0Z"/>
<path fill="#00ff00" d="M934.0,471.0 C933.6,469.9 933.8,469.1 934.5,468.0 C935.2,466.9 935.0,466.9 937.0,466.5 C939.0,466.1 941.6,465.1 943.0,466.5 C944.4,467.9 944.6,471.1 943.0,472.5 C941.4,473.9 938.1,472.9 936.0,472.5 C933.9,472.1 934.4,472.1 934.0,471.0Z"/>
<path fill="#00cc00" d="M747.0,319.0 C746.8,317.9 747.1,317.6 749.0,317.0 C750.9,316.4 752.4,316.0 755.0,316.5 C757.6,317.0 757.0,317.8 760.0,319.0 C763.0,320.2 764.3,320.3 768.0,321.5 C771.7,322.7 772.3,322.9 776.0,324.0 C779.7,325.1 780.7,324.9 784.0,326.0 C787.3,327.1 787.9,327.1 790.0,328.5 C792.1,329.9 792.2,330.5 793.0,332.0 C793.8,333.5 794.0,333.7 793.5,335.0 C793.0,336.3 792.8,336.6 791.0,337.5 C789.2,338.4 788.6,338.8 786.0,339.0 C783.4,339.2 782.3,339.2 780.0,338.5 C777.7,337.8 777.6,337.5 776.0,336.0 C774.4,334.5 774.9,333.6 773.0,332.0 C771.1,330.4 770.6,330.4 768.0,329.0 C765.4,327.6 764.8,327.4 762.0,326.0 C759.2,324.6 758.8,324.1 756.0,323.0 C753.2,321.9 752.1,322.4 750.0,321.5 C747.9,320.6 747.2,320.1 747.0,319.0Z"/>
<path fill="#00cc00" d="M871.8,479.5 C871.3,478.1 871.4,477.6 872.9,476.6 C874.4,475.5 876.0,475.1 878.2,475.1 C880.3,475.1 881.0,475.3 882.2,476.6 C883.5,477.9 883.8,479.2 883.4,480.7 C883.0,482.2 882.5,482.5 880.5,483.0 C878.5,483.5 876.7,483.6 874.7,482.8 C872.6,481.9 872.2,480.9 871.8,479.5Z"/>
<path fill="#00cc00" d="M930.0,399.0 C928.7,399.5 928.4,400.4 927.0,402.0 C925.6,403.6 925.2,404.1 924.0,406.0 C922.8,407.9 922.4,408.1 922.0,410.0 C921.6,411.9 921.8,412.4 922.5,414.0 C923.2,415.6 923.2,416.1 925.0,417.0 C926.8,417.9 927.7,418.0 930.0,418.0 C932.3,418.0 932.0,417.5 935.0,417.0 C938.0,416.5 941.1,418.9 943.0,416.0 C944.9,413.1 944.4,407.3 943.0,404.5 C941.6,401.7 939.1,404.4 937.0,404.2 C934.9,404.0 935.0,404.5 934.0,403.5 C933.0,402.5 933.4,401.1 932.5,400.0 C931.6,398.9 931.3,398.5 930.0,399.0Z"/>
<path fill="#009900" d="M784.5,335.0 L786.0,334.5 L787.5,335.2 L786.0,336.2Z"/>
<path fill="#009900" d="M874.7,478.3 C874.8,477.2 876.1,476.7 877.6,476.6 C879.1,476.4 880.4,476.8 881.1,477.8 C881.8,478.7 881.5,479.8 880.5,480.7 C879.5,481.6 878.4,482.1 877.0,481.6 C875.6,481.1 874.5,479.5 874.7,478.3Z"/>
<path fill="#009900" d="M926.0,407.0 C926.8,405.6 926.8,405.2 928.0,405.0 C929.2,404.8 929.6,405.1 931.0,406.0 C932.4,406.9 932.6,408.1 934.0,409.0 C935.4,409.9 934.9,409.8 937.0,410.0 C939.1,410.2 941.6,408.9 943.0,410.0 C944.4,411.1 944.5,413.5 943.0,414.5 C941.5,415.5 939.1,414.1 936.5,414.2 C933.9,414.3 934.2,415.0 932.0,415.0 C929.8,415.0 928.8,414.9 927.0,414.0 C925.2,413.1 924.7,412.6 924.5,411.0 C924.3,409.4 925.2,408.4 926.0,407.0Z"/>
</g>
<g id="grid" clip-path="url(#mapclip)">
<line class="grid" x1="271.95" y1="798.30" x2="936.50" y2="798.30" stroke-dasharray="1.85 7.968"/>
<line class="grid" x1="271.95" y1="730.87" x2="936.50" y2="730.87" stroke-dasharray="1.85 7.968"/>
<line class="grid" x1="271.95" y1="663.44" x2="936.50" y2="663.44" stroke-dasharray="1.85 7.968"/>
<line class="grid" x1="271.95" y1="596.01" x2="936.50" y2="596.01" stroke-dasharray="1.85 7.968"/>
<line class="grid" x1="271.95" y1="528.58" x2="936.50" y2="528.58" stroke-dasharray="1.85 7.968"/>
<line class="grid" x1="271.95" y1="461.15" x2="936.50" y2="461.15" stroke-dasharray="1.85 7.968"/>
<line class="grid" x1="271.95" y1="393.72" x2="936.50" y2="393.72" stroke-dasharray="1.85 7.968"/>
<line class="grid" x1="271.95" y1="326.29" x2="936.50" y2="326.29" stroke-dasharray="1.85 7.968"/>
<line class="grid" x1="271.95" y1="258.86" x2="936.50" y2="258.86" stroke-dasharray="1.85 7.968"/>
<line class="grid" x1="271.95" y1="191.43" x2="936.50" y2="191.43" stroke-dasharray="1.85 7.968"/>
<line class="grid" x1="271.95" y1="124.00" x2="936.50" y2="124.00" stroke-dasharray="1.85 7.968"/>
<line class="grid" x1="301.00" y1="811.5" x2="301.00" y2="80.10" stroke-dasharray="1.85 7.681"/>
<line class="grid" x1="358.85" y1="811.5" x2="358.85" y2="80.10" stroke-dasharray="1.85 7.681"/>
<line class="grid" x1="416.70" y1="811.5" x2="416.70" y2="80.10" stroke-dasharray="1.85 7.681"/>
<line class="grid" x1="474.55" y1="811.5" x2="474.55" y2="80.10" stroke-dasharray="1.85 7.681"/>
<line class="grid" x1="532.40" y1="811.5" x2="532.40" y2="80.10" stroke-dasharray="1.85 7.681"/>
<line class="grid" x1="590.25" y1="811.5" x2="590.25" y2="80.10" stroke-dasharray="1.85 7.681"/>
<line class="grid" x1="648.10" y1="811.5" x2="648.10" y2="80.10" stroke-dasharray="1.85 7.681"/>
<line class="grid" x1="705.95" y1="811.5" x2="705.95" y2="80.10" stroke-dasharray="1.85 7.681"/>
<line class="grid" x1="763.80" y1="811.5" x2="763.80" y2="80.10" stroke-dasharray="1.85 7.681"/>
<line class="grid" x1="821.65" y1="811.5" x2="821.65" y2="80.10" stroke-dasharray="1.85 7.681"/>
<line class="grid" x1="879.50" y1="811.5" x2="879.50" y2="80.10" stroke-dasharray="1.85 7.681"/>
</g>
<g id="coast" clip-path="url(#mapclip)">
<path class="coast" d="M278.0,78.5 L287.8,95.2 L295.2,101.8 L300.0,110.8 L303.8,121.8 L322.5,129.5 L325.8,139.5 L317.0,135.8 L310.5,141.2 L317.5,147.5 L322.5,155.5 L317.5,163.2 L306.8,161.2 L298.8,165.5 L291.8,159.5 L278.0,171.2 L295.0,179.5 L308.2,191.8 L318.8,189.5 L325.0,195.0 L327.5,206.2 L327.5,221.2 L324.2,233.0 L332.8,229.5 L329.5,239.2 L321.2,243.0 L314.2,249.2 L303.8,251.8 L300.2,260.8 L305.5,271.8 L299.5,279.5 L293.0,285.0 L288.2,293.0 L288.2,293.0 L293.2,301.2 L292.0,313.0 L293.2,325.0 L299.2,333.8 L305.8,353.8 L331.2,393.2 L348.2,401.2 L359.5,401.2 L380.0,405.0 L388.8,409.2 L403.8,421.2 L428.8,461.2 L437.0,465.0 L443.8,445.5 L452.5,440.8 L454.5,429.5 L464.5,431.8 L475.0,414.2 L481.8,409.5 L472.0,411.8 L468.2,398.8 L468.2,385.0 L456.2,385.0 L448.8,378.8 L439.5,377.0 L430.8,373.2 L420.8,357.5 L412.0,351.2 L407.0,315.0 L399.2,309.2 L406.2,313.8 L416.2,331.2 L425.8,335.8 L435.5,333.2 L440.8,341.8 L451.2,343.8 L457.0,352.0 L464.5,355.8 L470.8,364.2 L478.2,369.5 L488.8,373.8 L497.0,375.5 L488.8,379.5 L498.8,377.0 L506.2,383.8 L507.5,395.0 L515.0,401.8 L524.5,417.5 L524.5,431.8 L520.0,440.0 L518.0,451.2 L524.5,457.0 L530.5,465.8 L538.2,472.0 L544.2,479.2 L553.8,477.0 L562.5,478.8 L572.5,482.5 L591.2,486.8 L610.5,495.0 L620.8,511.2 L631.2,513.2 L645.0,520.0 L658.2,525.0 L672.5,537.0 L677.5,545.0 L686.2,548.8 L693.0,555.0 L698.0,562.5 L705.0,569.2 L710.5,579.2 L716.2,583.8 L721.8,592.0 L725.5,603.0 L721.8,613.0 L723.8,625.5 L728.8,632.5 L721.2,639.5 L717.0,646.2 L727.0,644.5 L718.8,648.8 L717.0,660.0 L716.8,660.5 L703.0,672.5 L699.2,682.5 L710.0,698.8 L722.5,709.5 L729.2,718.2 L737.5,722.5 L749.2,720.5 L783.2,736.8 L788.8,728.8 L788.8,713.8 L785.8,705.0 L780.5,696.2 L763.2,688.8 L757.5,680.0 L751.2,660.5 L773.2,656.8 L782.5,672.5 L800.0,680.0 L811.2,682.5 L817.5,688.0 L806.2,688.8 L810.8,697.0 L821.2,698.8 L813.0,702.5 L818.0,711.2 L821.2,722.5 L816.2,730.8 L814.2,743.0 L828.0,754.2 L836.2,758.8 L843.8,766.2 L852.5,778.8 L857.5,791.2 L860.5,799.2 L860.5,814.2 L867.5,814.2 L869.5,802.5 L865.8,791.8 L865.5,778.8 L867.5,766.2 L872.5,758.2 L890.0,750.0 L900.5,748.2 L920.0,752.0 L930.0,756.2 L938.0,758.2"/>
<path class="coast" d="M322.5,129.5 L326.2,120.0 L331.2,111.2 L334.5,102.0 L344.5,99.5 L357.5,112.0 L367.5,116.2 L387.0,120.0 L473.0,159.5 L481.2,155.8 L495.0,143.8 L504.5,139.5 L511.2,133.8 L519.5,130.0 L526.8,135.5 L538.2,135.5 L545.0,141.8 L553.8,145.8 L561.2,153.8 L569.2,157.5 L579.5,147.5 L583.2,158.8 L588.2,165.8 L605.8,173.8 L608.8,182.5 L610.5,195.5 L622.0,195.5 L631.2,199.5 L639.5,195.5 L648.0,199.5 L662.0,211.5 L672.5,209.5 L681.2,205.0 L690.0,199.2 L700.0,197.0 L708.2,193.8 L715.0,187.5 L712.0,163.0"/>
<path class="coast" d="M325.8,78.5 L333.0,85.5 L349.5,93.2 L355.8,101.8 L372.5,109.5 L392.0,113.8 L400.0,117.5 L408.8,123.8 L417.5,125.5 L430.0,125.5 L440.5,128.0 L457.0,135.5 L470.0,135.5 L478.2,139.5 L488.8,137.5 L495.5,132.0 L499.2,121.2 L497.0,107.5 L499.2,97.5 L496.2,88.0 L490.0,78.5"/>
<path class="coast" d="M450.2,101.2 L456.2,109.2 L447.5,113.2 Z"/>
<path class="coast" d="M422.5,343.2 L431.2,345.5 L436.8,352.5 L427.5,355.0 L420.5,348.0 Z"/>
<path class="coast" d="M673.8,78.5 L675.0,92.5 L677.5,107.5 L683.8,125.0 L692.5,141.2 L699.5,153.2 L702.5,163.0 L712.0,162.0 L717.5,163.8 L723.0,175.0 L728.2,190.8 L723.8,183.8 L723.2,197.5 L720.5,207.0 L728.8,203.8 L733.8,212.0 L736.2,225.0 L742.5,241.2 L748.0,252.0 L751.2,261.2 L756.2,270.0 L760.5,280.0 L766.2,289.5 L772.5,299.5 L778.0,308.5 L784.5,318.5 L787.5,320.5 L792.5,324.5 L795.0,329.0 L800.8,339.2 L810.0,352.5 L817.5,363.3 L825.0,370.8 L835.0,369.5 L838.3,378.3 L844.2,386.7 L855.0,403.3 L863.3,417.5 L870.0,427.2 L877.5,430.8 L880.0,438.3 L885.0,446.7 L895.0,453.3 L906.7,455.3 L915.0,457.5 L919.2,463.3 L924.2,468.0 L931.8,473.7 L937.7,478.7"/>
<path class="coast" d="M925.4,469.0 L920.8,470.8 L917.2,480.7 L909.1,485.1 L902.7,480.1 L895.1,472.5 L889.2,464.9 L881.7,461.2 L871.2,463.4 L865.9,471.3 L868.8,478.3 L872.9,483.9 L863.0,485.9 L857.2,490.0 L853.7,497.0 L853.7,524.8 L853.3,580.7 L866.7,585.0 L875.0,589.3 L881.7,596.7 L890.0,600.7 L895.0,609.2 L891.2,618.8 L883.2,625.8 L868.2,632.5 L865.0,642.5 L857.5,648.8 L862.0,658.8 L872.0,675.0 L874.2,697.5 L874.5,712.5 L868.8,720.8 L862.5,726.2 L852.5,728.8 L846.2,740.5 L831.2,746.8 L845.0,760.0 L853.8,764.2 L857.5,782.5 L862.5,798.8 L862.5,814.2"/>
</g>
<rect x="262.7" y="79.1" width="674.8" height="741.2" fill="none" stroke="#000" stroke-width="1.6"/>
<line class="tick" x1="257.0" y1="798.30" x2="262.7" y2="798.30"/>
<line class="tick" x1="257.0" y1="730.87" x2="262.7" y2="730.87"/>
<line class="tick" x1="257.0" y1="663.44" x2="262.7" y2="663.44"/>
<line class="tick" x1="257.0" y1="596.01" x2="262.7" y2="596.01"/>
<line class="tick" x1="257.0" y1="528.58" x2="262.7" y2="528.58"/>
<line class="tick" x1="257.0" y1="461.15" x2="262.7" y2="461.15"/>
<line class="tick" x1="257.0" y1="393.72" x2="262.7" y2="393.72"/>
<line class="tick" x1="257.0" y1="326.29" x2="262.7" y2="326.29"/>
<line class="tick" x1="257.0" y1="258.86" x2="262.7" y2="258.86"/>
<line class="tick" x1="257.0" y1="191.43" x2="262.7" y2="191.43"/>
<line class="tick" x1="257.0" y1="124.00" x2="262.7" y2="124.00"/>
<line class="tick" x1="301.00" y1="820.3" x2="301.00" y2="825.8"/>
<line class="tick" x1="358.85" y1="820.3" x2="358.85" y2="825.8"/>
<line class="tick" x1="416.70" y1="820.3" x2="416.70" y2="825.8"/>
<line class="tick" x1="474.55" y1="820.3" x2="474.55" y2="825.8"/>
<line class="tick" x1="532.40" y1="820.3" x2="532.40" y2="825.8"/>
<line class="tick" x1="590.25" y1="820.3" x2="590.25" y2="825.8"/>
<line class="tick" x1="648.10" y1="820.3" x2="648.10" y2="825.8"/>
<line class="tick" x1="705.95" y1="820.3" x2="705.95" y2="825.8"/>
<line class="tick" x1="763.80" y1="820.3" x2="763.80" y2="825.8"/>
<line class="tick" x1="821.65" y1="820.3" x2="821.65" y2="825.8"/>
<line class="tick" x1="879.50" y1="820.3" x2="879.50" y2="825.8"/>
<text class="ax" font-size="18.2" transform="translate(219.30,804.7) scale(0.9069,1)" x="-0.79 9.33 14.39 24.51" y="0">8.1N</text>
<text class="ax" font-size="18.2" transform="translate(219.30,737.27) scale(0.9069,1)" x="-0.79 9.33 14.39 24.51" y="0">8.4N</text>
<text class="ax" font-size="18.2" transform="translate(219.30,669.84) scale(0.9069,1)" x="-0.79 9.33 14.39 24.51" y="0">8.7N</text>
<text class="ax" font-size="18.2" transform="translate(233.30,602.41) scale(0.8983,1)" x="-0.85 9.27" y="0">9N</text>
<text class="ax" font-size="18.2" transform="translate(219.30,534.98) scale(0.9084,1)" x="-0.85 9.27 14.33 24.45" y="0">9.3N</text>
<text class="ax" font-size="18.2" transform="translate(219.30,467.55) scale(0.9084,1)" x="-0.85 9.27 14.33 24.45" y="0">9.6N</text>
<text class="ax" font-size="18.2" transform="translate(219.30,400.12) scale(0.9084,1)" x="-0.85 9.27 14.33 24.45" y="0">9.9N</text>
<text class="ax" font-size="18.2" transform="translate(210.80,332.69) scale(0.9038,1)" x="-1.39 8.74 18.86 23.91 34.04" y="0">10.2N</text>
<text class="ax" font-size="18.2" transform="translate(210.80,265.26) scale(0.9038,1)" x="-1.39 8.74 18.86 23.91 34.04" y="0">10.5N</text>
<text class="ax" font-size="18.2" transform="translate(210.80,197.83) scale(0.9038,1)" x="-1.39 8.74 18.86 23.91 34.04" y="0">10.8N</text>
<text class="ax" font-size="18.2" transform="translate(211.20,130.4) scale(0.8951,1)" x="-1.39 8.74 18.86 23.91 34.04" y="0">11.1N</text>
<text class="ax" font-size="18.2" transform="translate(278.85,841.0) scale(0.8561,1)" x="-0.79 9.33 19.45 24.51 34.63" y="0">85.8W</text>
<text class="ax" font-size="18.2" transform="translate(336.70,841.0) scale(0.8561,1)" x="-0.79 9.33 19.45 24.51 34.63" y="0">85.5W</text>
<text class="ax" font-size="18.2" transform="translate(394.55,841.0) scale(0.8561,1)" x="-0.79 9.33 19.45 24.51 34.63" y="0">85.2W</text>
<text class="ax" font-size="18.2" transform="translate(452.40,841.0) scale(0.8561,1)" x="-0.79 9.33 19.45 24.51 34.63" y="0">84.9W</text>
<text class="ax" font-size="18.2" transform="translate(510.25,841.0) scale(0.8561,1)" x="-0.79 9.33 19.45 24.51 34.63" y="0">84.6W</text>
<text class="ax" font-size="18.2" transform="translate(568.10,841.0) scale(0.8561,1)" x="-0.79 9.33 19.45 24.51 34.63" y="0">84.3W</text>
<text class="ax" font-size="18.2" transform="translate(633.30,841.0) scale(0.8094,1)" x="-0.79 9.33 19.45" y="0">84W</text>
<text class="ax" font-size="18.2" transform="translate(683.80,841.0) scale(0.8561,1)" x="-0.79 9.33 19.45 24.51 34.63" y="0">83.7W</text>
<text class="ax" font-size="18.2" transform="translate(741.65,841.0) scale(0.8561,1)" x="-0.79 9.33 19.45 24.51 34.63" y="0">83.4W</text>
<text class="ax" font-size="18.2" transform="translate(799.50,841.0) scale(0.8561,1)" x="-0.79 9.33 19.45 24.51 34.63" y="0">83.1W</text>
<text class="ax" font-size="18.2" transform="translate(857.35,841.0) scale(0.8561,1)" x="-0.79 9.33 19.45 24.51 34.63" y="0">82.8W</text>
<g id="title">
<text class="ttl" font-size="32.5" transform="translate(134.00,30.3) scale(0.8531,1)" x="-3.00 6.03 33.10" y="0">IMN</text>
<text class="ttl" font-size="45.28" transform="translate(184.5,36.56) skewX(-8.42)" x="0.07" y="0" style="stroke-width:1.8px">/</text>
<text class="ttl" font-size="32.5" transform="translate(205.50,30.3) scale(0.8434,1)" x="-1.48 20.20 41.88 65.35 87.03 108.70 117.73 143.01 166.48" y="0">SARAPIQUI</text>
<text class="" font-size="25.21" transform="translate(353.00,32.79) scale(1.2940,1)" x="0.38" y="0">_</text>
<text class="ttl" font-size="32.5" x="373.74" y="30.3">5</text>
<text class="ttl" font-size="32.5" x="409.33 431.40 442.62 461.09 477.73 485.34 503.81 511.42 520.84 539.31 555.96 563.57 582.04" y="30.3">Precipitacion</text>
<text class="ttl" font-size="32.5" x="617.94 639.17 654.98 672.61 699.25 716.88 723.66 741.29 758.93" y="30.3">Acumulada</text>
<text class="ttl" font-size="32.5" transform="translate(798.00,30.3) scale(0.9492,1)" x="-1.38 16.69" y="0">en</text>
<text class="ttl" font-size="32.5" x="848.60" y="30.3">6</text>
<text class="ttl" font-size="32.5" x="885.75 903.85 921.96 932.82 950.92" y="30.3">horas</text>
<text class="ttl" font-size="35.69" transform="translate(989.00,29.61) scale(0.8454,1)" x="-2.21" y="0" style="stroke-width:1.3px">(</text>
<text class="ttl" font-size="32.5" x="999.34 1028.82" y="30.3">mm</text>
<text class="ttl" font-size="35.69" transform="translate(1059.50,29.61) scale(0.8454,1)" x="-0.21" y="0" style="stroke-width:1.3px">)</text>
</g>
<g id="subtitle">
<text class="ttl" font-size="32.5" x="462.12 481.11 500.11 519.10" y="61.9">2026</text>
<text class="" font-size="20.48" transform="translate(542.00,57.44) scale(3.4500,1)" x="-0.91" y="0">-</text>
<text class="ttl" font-size="32.5" x="563.73 581.56" y="61.9">02</text>
<text class="" font-size="20.48" transform="translate(605.00,57.44) scale(3.5000,1)" x="-0.91" y="0">-</text>
<text class="ttl" font-size="32.5" transform="translate(631.50,61.9) scale(0.9144,1)" x="-2.48 15.60" y="0">18</text>
<text class="ttl" font-size="32.5" x="681.73 699.57 717.41" y="61.9">06Z</text>
</g>
<g id="footer">
<text class="ftr" font-size="24.3" x="327.26 336.25 352.00 366.39 375.38 383.02 392.01 407.77 416.76" y="876.8">Instituto</text>
<text class="ftr" font-size="24.3" x="445.51 467.55 482.87 491.42 506.74 522.06 531.95 547.27 554.47 569.79 585.10 592.30 606.26" y="876.8">Meteorologico</text>
<text class="ftr" font-size="24.3" x="635.51 654.89 670.23 684.21 691.44 706.79 722.13 737.48" y="876.8">Nacional</text>
<text class="ftr" font-size="24.3" x="758.27 777.38 792.46 806.17 814.49" y="876.8">Costa</text>
<text class="ftr" font-size="24.3" x="844.76 863.43 869.96 883.24" y="876.8">Rica</text>
</g>
<g id="cbar" stroke="#000" stroke-width="1.4" stroke-linejoin="miter">
<polygon points="1057.7,132.25 1068.65,89.2 1079.6,132.25" fill="#aaaaaa"/>
<rect x="1057.7" y="132.25" width="21.9" height="42.36" fill="#f5f5f5"/>
<rect x="1057.7" y="174.61" width="21.9" height="42.36" fill="#9932cc"/>
<rect x="1057.7" y="216.97" width="21.9" height="42.36" fill="#ff00ff"/>
<rect x="1057.7" y="259.33" width="21.9" height="42.36" fill="#990000"/>
<rect x="1057.7" y="301.69" width="21.9" height="42.36" fill="#cc3300"/>
<rect x="1057.7" y="344.05" width="21.9" height="42.36" fill="#ff0000"/>
<rect x="1057.7" y="386.41" width="21.9" height="42.36" fill="#ff6600"/>
<rect x="1057.7" y="428.77" width="21.9" height="42.36" fill="#ffcc00"/>
<rect x="1057.7" y="471.13" width="21.9" height="42.36" fill="#ffff00"/>
<rect x="1057.7" y="513.49" width="21.9" height="42.36" fill="#009900"/>
<rect x="1057.7" y="555.85" width="21.9" height="42.36" fill="#00cc00"/>
<rect x="1057.7" y="598.21" width="21.9" height="42.36" fill="#00ff00"/>
<rect x="1057.7" y="640.57" width="21.9" height="42.36" fill="#0000ff"/>
<rect x="1057.7" y="682.93" width="21.9" height="42.36" fill="#3399ff"/>
<rect x="1057.7" y="725.29" width="21.9" height="42.36" fill="#66ffff"/>
<polygon points="1057.7,767.65 1068.65,810.4 1079.6,767.65" fill="#ffffff"/>
</g>
<text class="cb" font-size="19.6" transform="translate(1086.30,139.75) scale(1.0800,1)" x="-0.99 11.15 23.29" y="0">200</text>
<text class="cb" font-size="19.6" transform="translate(1088.30,182.11) scale(1.0800,1)" x="-1.49 9.97 21.44" y="0">150</text>
<text class="cb" font-size="19.6" transform="translate(1088.30,224.47) scale(1.0800,1)" x="-1.49 9.97 21.44" y="0">120</text>
<text class="cb" font-size="19.6" transform="translate(1088.30,266.83) scale(1.0800,1)" x="-1.49 9.97 21.44" y="0">100</text>
<text class="cb" font-size="19.6" transform="translate(1086.30,309.19) scale(1.0800,1)" x="-0.92 11.44" y="0">90</text>
<text class="cb" font-size="19.6" transform="translate(1086.30,351.55) scale(1.0800,1)" x="-1.00 11.50" y="0">75</text>
<text class="cb" font-size="19.6" transform="translate(1086.30,393.91) scale(1.0800,1)" x="-1.00 11.44" y="0">60</text>
<text class="cb" font-size="19.6" transform="translate(1086.30,436.27) scale(1.0800,1)" x="-0.78 11.44" y="0">50</text>
<text class="cb" font-size="19.6" transform="translate(1086.30,478.63) scale(1.0800,1)" x="-0.45 11.44" y="0">40</text>
<text class="cb" font-size="19.6" transform="translate(1086.30,520.99) scale(1.0800,1)" x="-0.75 11.44" y="0">30</text>
<text class="cb" font-size="19.6" transform="translate(1086.30,563.35) scale(1.0800,1)" x="-0.99 11.50" y="0">25</text>
<text class="cb" font-size="19.6" transform="translate(1086.30,605.71) scale(1.0800,1)" x="-0.99 11.44" y="0">20</text>
<text class="cb" font-size="19.6" transform="translate(1088.30,648.07) scale(1.0800,1)" x="-1.49 9.64" y="0">15</text>
<text class="cb" font-size="19.6" transform="translate(1088.30,690.43) scale(1.0800,1)" x="-1.49 10.18 21.85 28.07" y="0">12.5</text>
<text class="cb" font-size="19.6" transform="translate(1086.30,732.79) scale(1.0800,1)" x="-1.00" y="0">7</text>
<text class="cb" font-size="19.6" transform="translate(1086.30,775.15) scale(1.0800,1)" x="-0.75 11.39 18.07" y="0">3.5</text>
</svg>
</body></html>
